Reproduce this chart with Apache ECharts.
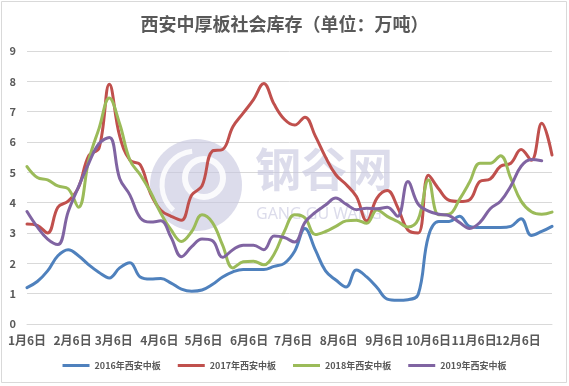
<!DOCTYPE html>
<html><head><meta charset="utf-8">
<script src="https://cdn.jsdelivr.net/npm/echarts@6/dist/echarts.min.js"></script>
<style>html,body{margin:0;padding:0;background:#fff}#c{width:569px;height:386px}</style>
</head><body><div id="c"></div>
<script>
// x categories: every day from Jan 6 to Dec 29; data are weekly
const startMonth = 1, startDay = 6, dayCount = 358, weekStep = 7;
const tickLabels = ['1月6日','2月6日','3月6日','4月6日','5月6日','6月6日','7月6日','8月6日','9月6日','10月6日','11月6日','12月6日'];
const seriesNames = ['2016年西安中板','2017年西安中板','2018年西安中板','2019年西安中板'];
const s2016 = [1.2,1.4,1.75,2.25,2.45,2.25,1.95,1.7,1.52,1.85,2.02,1.55,1.48,1.5,1.35,1.15,1.08,1.12,1.3,1.55,1.72,1.8,1.8,1.8,1.9,2.0,2.4,3.15,2.45,1.75,1.45,1.22,1.78,1.55,1.2,0.82,0.78,0.8,0.97,2.9,3.38,3.38,3.55,3.22,3.18,3.18,3.18,3.22,3.47,2.92,3.05,3.22];
const s2017 = [3.3,3.25,3.0,3.85,4.05,4.5,5.55,5.8,7.9,6.2,5.4,5.25,4.3,3.75,3.55,3.42,4.25,4.55,5.7,5.75,6.5,6.95,7.4,7.93,7.25,6.75,6.56,6.82,6.2,5.5,4.92,4.6,4.2,3.4,4.15,4.4,3.85,3.1,3.0,4.9,4.45,4.08,4.04,4.1,4.7,4.78,5.2,5.3,5.75,5.4,6.62,5.57];
const s2018 = [5.19,4.83,4.75,4.55,4.46,3.85,5.4,6.45,7.45,6.6,5.4,4.92,4.35,3.65,3.1,2.72,3.05,3.6,3.35,2.6,1.85,2.05,2.07,1.95,2.3,3.05,3.6,3.5,2.95,3.05,3.22,3.4,3.42,3.32,3.76,3.55,3.38,3.2,3.45,4.75,3.6,3.62,4.1,4.68,5.3,5.3,5.55,4.8,4.05,3.7,3.62,3.69];
const s2019 = [3.71,3.2,2.8,2.62,3.7,4.52,5.3,5.95,6.15,4.8,4.25,3.5,3.36,3.4,2.85,2.22,2.55,2.8,2.75,2.2,2.45,2.6,2.6,2.45,2.9,2.85,2.7,3.35,3.68,3.92,4.15,3.95,3.77,3.82,3.8,3.85,3.55,4.7,3.95,3.72,3.62,3.57,3.35,3.15,3.35,3.8,4.05,4.55,5.2,5.42,5.38];
const colors = ['#4F81BD','#C0504D','#9BBB59','#8064A2'];

const categories = [];
{
  const d0 = new Date(2019, startMonth - 1, startDay);
  for (let k = 0; k < dayCount; k++) {
    const d = new Date(d0.getFullYear(), d0.getMonth(), d0.getDate() + k);
    categories.push((d.getMonth() + 1) + '月' + d.getDate() + '日');
  }
}
const toPairs = arr => arr.map((v, i) => [i * weekStep, v]);
const allSeries = [s2016, s2017, s2018, s2019];

const chart = echarts.init(document.getElementById('c'), null, {renderer: 'canvas'});
const font = "'Noto Sans CJK SC', 'Noto Sans', sans-serif";
chart.setOption({
  animation: false,
  backgroundColor: '#fff',
  color: colors,
  title: {
    text: '西安中厚板社会库存（单位：万吨）',
    left: 'center', top: 15, padding: 0,
    textStyle: {fontFamily: font, fontSize: 18, fontWeight: 'bold', color: '#595959'}
  },
  legend: {
    bottom: 11, left: 'center',
    itemWidth: 27, itemHeight: 3, itemGap: 17, icon: 'rect',
    data: seriesNames,
    textStyle: {fontFamily: font, fontSize: 9, fontWeight: 'bold', color: '#595959'}
  },
  grid: {left: 27, right: 17, top: 51, bottom: 62, containLabel: false},
  xAxis: {
    type: 'category', data: categories, boundaryGap: false,
    axisLine: {lineStyle: {color: '#d9d9d9'}},
    axisTick: {show: false},
    axisLabel: {
      interval: 0, showMinLabel: true, showMaxLabel: true, hideOverlap: false,
      formatter: val => tickLabels.includes(val) ? val : '',
      margin: 10, fontFamily: font, fontSize: 12, fontWeight: 'bold', color: '#595959'
    },
    splitLine: {show: false}
  },
  yAxis: {
    type: 'value', min: 0, max: 9, interval: 1,
    axisLine: {show: false}, axisTick: {show: false},
    axisLabel: {margin: 11, fontFamily: font, fontSize: 11, fontWeight: 'bold', color: '#595959'},
    splitLine: {lineStyle: {color: '#d9d9d9', width: 1}}
  },
  graphic: [
    {type: 'rect', z: -1, silent: true, shape: {x: 1.5, y: 1.5, width: 565, height: 381}, style: {fill: null, stroke: '#d9d9d9', lineWidth: 1}},
    {type: 'circle', z: 1, silent: true, shape: {cx: 196, cy: 185, r: 46}, style: {fill: 'rgba(196,196,222,0.6)'}},
    {type: 'circle', z: 1, silent: true, shape: {cx: 204, cy: 178, r: 19}, style: {fill: null, stroke: 'rgba(255,255,255,0.85)', lineWidth: 6}},
    {type: 'arc', z: 1, silent: true, shape: {cx: 196, cy: 185, r: 34, startAngle: 2.3, endAngle: 4.6}, style: {fill: null, stroke: 'rgba(255,255,255,0.85)', lineWidth: 5}},
    {type: 'text', z: 1, silent: true, left: 255, top: 146, style: {text: '钢谷网', fill: 'rgba(196,196,222,0.6)', font: "bold 46px 'Noto Sans CJK SC'"}},
    {type: 'text', z: 1, silent: true, left: 256, top: 206, style: {text: 'GANG GU WANG', fill: 'rgba(196,196,222,0.6)', font: "16px 'Noto Sans', sans-serif"}}
  ],
  series: allSeries.map((arr, i) => ({
    name: seriesNames[i], type: 'line', data: toPairs(arr),
    smooth: 0.4, showSymbol: false, symbol: 'none', z: 3,
    lineStyle: {width: 3, color: colors[i], cap: 'round', join: 'round'},
    itemStyle: {color: colors[i]}
  }))
});
</script></body></html>
